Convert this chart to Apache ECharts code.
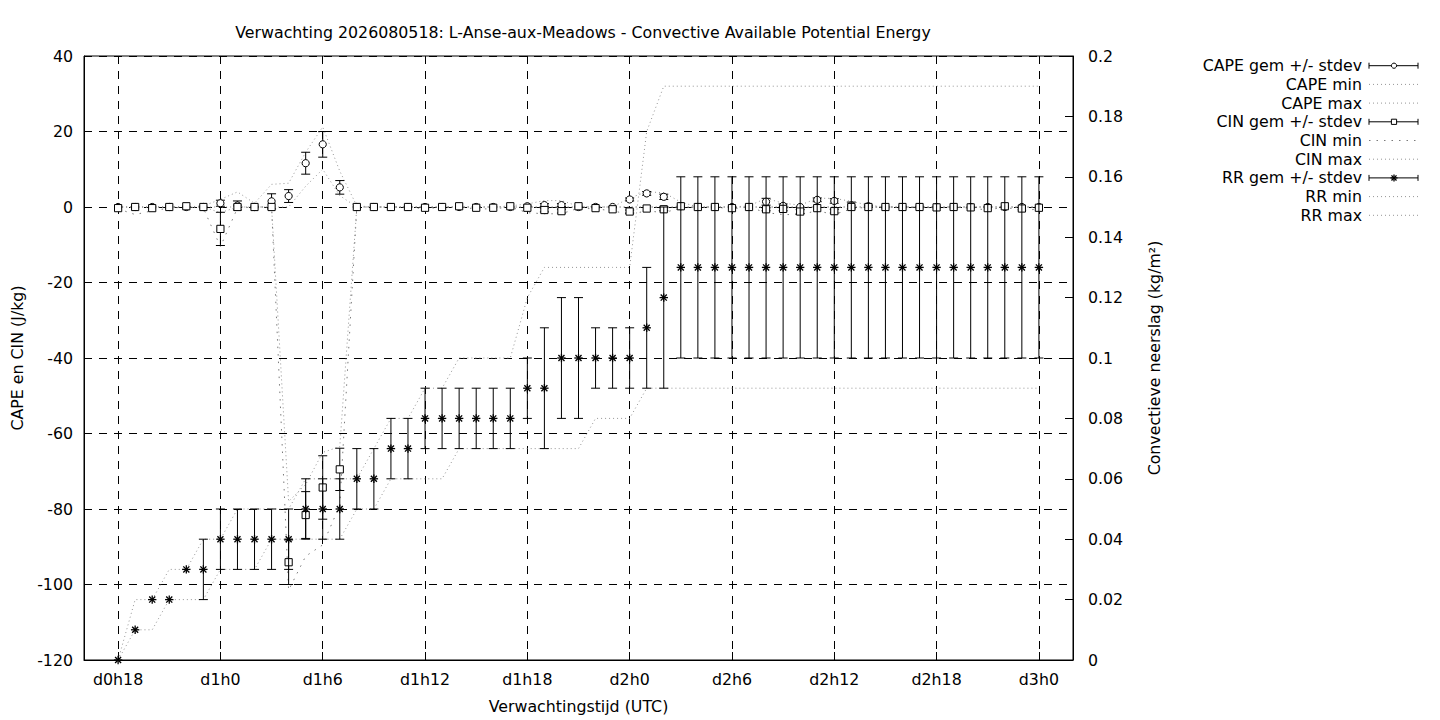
<!DOCTYPE html>
<html><head><meta charset="utf-8">
<script src="https://cdn.jsdelivr.net/npm/echarts@6/dist/echarts.min.js"></script>
<style>html,body{margin:0;padding:0;background:#fff}#c{width:1440px;height:720px}</style>
</head><body><div id="c"></div>
<script>
// ---- data (hourly, from d0h18 to d3h0) ----
const tickLabels = ['d0h18','d1h0','d1h6','d1h12','d1h18','d2h0','d2h6','d2h12','d2h18','d3h0'];

const capeGem = [0,0,0,0,0,0, 1.0,0.4,0,1.5,2.9,11.6,16.6,5.2,0, 0,0,0,0,0,0,0,0,0,
  0.2,0.5,0.5,0,0,0,2.0,3.6,2.7,0.2, 0,0,0,0, 1.4,0.3,0,1.9,1.6,0.4,0.2, 0,0,0,0,0,0,0,0,0,0];
const capeSd = [0,0,0,0,0,0, 0.8,1.2,0,2.0,1.7,2.9,3.4,1.8,0, 0,0,0,0,0,0,0,0,0,
  0,0.4,0.4,0,0,0,0.4,0.5,0.7,0, 0,0,0,0, 0.9,0.5,0,0.5,0.6,0.9,0.3, 0,0,0,0,0,0,0,0,0,0];
const capeMin = [0,0,0,0,0,0,0,0,0,0,0, 5.5,10,3.0,0,
  0,0,0,0,0,0,0,0,0,0, 0,0,0,0,0,0,0,0,0,0, 0,0,0,0,0,0,0,0,0,0, 0,0,0,0,0,0,0,0,0,0];
const capeMax = [0,0,0,0,0,0.3, 2.0,4.0,1.0,6.0,6.3,14.5,21.2,9.5,0.3, 0,0,0,0,0,0,0,0,0.3,
  0.8,1.7,1.7,0.2,0,0,2.4,4.0,3.8,1.3, 0,0,0,0.3, 2.3,1.0,0.5,2.3,2.3,1.5,0.5, 0,0,0,0,0,0,0,0,0,0];

const cinGem = [-0.3,0,-0.3,0,0.2,0,-5.8,0,0,0,-94.1,-81.6,-74.3,-69.5,0,
  0,0,0,-0.2,0,0.2,-0.2,-0.2,0.2, -0.2,-0.8,-1.1,0.2,-0.3,-0.6,-1.2,-0.4,-0.6,0.2,
  0,0,-0.3,0, -0.6,-0.5,-1.2,-0.3,-1.1,0,0, 0,0,0,-0.1,0,-0.1,-0.3,0.2,-0.4,-0.2];
const cinSd = [0,0,0,0,0,0,4.4,0,0,0,5.9,6.2,8.4,5.6,0,
  0,0,0,0,0,0,0,0,0, 0,0.5,0.5,0,0,0,0.4,0,0.4,0,
  0,0,0,0, 0.4,0.5,0.5,0,0.5,0,0, 0,0,0,0,0,0,0,0,0,0];
const cinMin = [-0.5,-2.0,-1.0,-0.3,0,-0.3,-10.5,-0.3,0,0,-101.5,-92.5,-89.5,-79,0,
  0,0,0,-0.5,0,0,-0.5,-0.5,0, -1.5,-1.8,-1.8,-0.3,-0.5,-1.0,-2.0,-1.0,-1.5,-0.3,
  0,0,-0.5,0, -1.5,-2.0,-2.0,-1.0,-2.0,-0.5,0, 0,0,0,-0.3,0,-0.3,-0.8,0,-1.0,-0.5];
const cinMax = [0,0,0,0,0,0,-1.5,0,0,0,-78,-73.5,-65,-63.5,0,
  0,0,0,0,0,0,0,0,0, 0,0,0,0,0,0,0,0,0,0, 0,0,0,0, 0,0,0,0,0,0,0, 0,0,0,0,0,0,0,0,0,0];

const rrGem = [0,0.01,0.02,0.02,0.03,0.03,0.04,0.04,0.04,0.04,0.04,0.05,0.05,0.05,0.06,0.06,
  0.07,0.07,0.08,0.08,0.08,0.08,0.08,0.08,0.09,0.09,0.10,0.10,0.10,0.10,0.10,0.11,0.12,
  0.13,0.13,0.13,0.13,0.13,0.13,0.13,0.13,0.13,0.13,0.13,0.13,0.13,0.13,0.13,0.13,0.13,0.13,0.13,0.13,0.13,0.13];
const rrSd = [0,0,0,0,0,0.01,0.01,0.01,0.01,0.01,0.01,0.01,0.01,0.01,0.01,0.01,
  0.01,0.01,0.01,0.01,0.01,0.01,0.01,0.01,0.01,0.02,0.02,0.02,0.01,0.01,0.01,0.02,0.03,
  0.03,0.03,0.03,0.03,0.03,0.03,0.03,0.03,0.03,0.03,0.03,0.03,0.03,0.03,0.03,0.03,0.03,0.03,0.03,0.03,0.03,0.03];
const rrMin = [0,0.01,0.01,0.02,0.02,0.02,0.03,0.03,0.03,0.04,0.04,0.04,0.04,0.04,0.05,0.05,
  0.06,0.06,0.06,0.06,0.07,0.07,0.07,0.07,0.07,0.07,0.07,0.07,0.08,0.08,0.08,
  0.09,0.09,0.09,0.09,0.09,0.09,0.09,0.09,0.09,0.09,0.09,0.09,0.09,0.09,0.09,0.09,0.09,0.09,0.09,0.09,0.09,0.09,0.09,0.09];
const rrMax = [0,0.02,0.02,0.03,0.03,0.04,0.04,0.05,0.05,0.05,0.05,0.06,0.06,0.06,0.06,0.07,
  0.08,0.08,0.09,0.09,0.10,0.10,0.10,0.10,0.12,0.13,0.13,0.13,0.13,0.13,0.13,0.175,
  0.19,0.19,0.19,0.19,0.19,0.19,0.19,0.19,0.19,0.19,0.19,0.19,0.19,0.19,0.19,0.19,0.19,0.19,0.19,0.19,0.19,0.19,0.19];

// ---- layout / style ----
const FONT = 'DejaVu Sans';
const FS = 15.8;
const X0 = 2;            // category index of the first forecast hour (axis starts 2 h earlier)
const NCAT = 59;         // hours -2 .. 56
const categories = [];
for (let k = 0; k < NCAT; k++) {
  const on = k >= X0 && (k - X0) % 6 === 0;
  categories.push(on ? tickLabels[(k - X0) / 6] : 'h' + (k - X0));
}
const isTick = (idx) => idx >= X0 && (idx - X0) % 6 === 0 && (idx - X0) / 6 < tickLabels.length;

const GRID_DASH = [8, 7];
const DOT = [1, 3];
const DOT_GRAY = '#959595';
const CAP = 4.5;

function markerShapes(kind, cx, cy, s) {
  const st = {fill: '#fff', stroke: '#000', lineWidth: 1};
  if (kind === 'circle') return [{type: 'circle', shape: {cx, cy, r: s}, style: st}];
  if (kind === 'square') return [{type: 'rect', shape: {x: cx - s, y: cy - s, width: 2 * s, height: 2 * s}, style: st}];
  const d = s * 0.72, ls = {stroke: '#000', lineWidth: 1.3};
  return [
    {type: 'line', shape: {x1: cx - s, y1: cy, x2: cx + s, y2: cy}, style: ls},
    {type: 'line', shape: {x1: cx, y1: cy - s, x2: cx, y2: cy + s}, style: ls},
    {type: 'line', shape: {x1: cx - d, y1: cy - d, x2: cx + d, y2: cy + d}, style: ls},
    {type: 'line', shape: {x1: cx - d, y1: cy + d, x2: cx + d, y2: cy - d}, style: ls}
  ];
}

function errRender(kind) {
  return function (params, api) {
    const x = api.value(0), y = api.value(1), sd = api.value(2);
    const p = api.coord([x, y]);
    const ch = [];
    if (sd > 0) {
      const t = api.coord([x, y + sd]), b = api.coord([x, y - sd]);
      const ls = {stroke: '#000', lineWidth: 1};
      ch.push({type: 'line', shape: {x1: p[0], y1: t[1], x2: p[0], y2: b[1]}, style: ls});
      ch.push({type: 'line', shape: {x1: p[0] - CAP, y1: t[1], x2: p[0] + CAP, y2: t[1]}, style: ls});
      ch.push({type: 'line', shape: {x1: p[0] - CAP, y1: b[1], x2: p[0] + CAP, y2: b[1]}, style: ls});
    }
    markerShapes(kind, p[0], p[1], kind === 'star' ? 4.2 : 3.6).forEach(e => ch.push(e));
    return {type: 'group', children: ch};
  };
}

const errData = (m, s) => m.map((v, i) => [i + X0, v, s[i]]);
const lineData = (a) => a.map((v, i) => [i + X0, v]);

function errSeries(name, m, s, kind, yIdx) {
  return {name, type: 'custom', yAxisIndex: yIdx, data: errData(m, s), encode: {x: 0, y: 1},
    renderItem: errRender(kind), z: 4, silent: true, clip: false};
}
function dotSeries(name, a, yIdx, color, dash) {
  return {name, type: 'line', yAxisIndex: yIdx, data: lineData(a), symbol: 'none', z: 3, silent: true,
    lineStyle: {color, width: 1, type: dash}};
}

const series = [
  errSeries('CAPE gem +/- stdev', capeGem, capeSd, 'circle', 0),
  dotSeries('CAPE min', capeMin, 0, DOT_GRAY, DOT),
  dotSeries('CAPE max', capeMax, 0, DOT_GRAY, DOT),
  errSeries('CIN gem +/- stdev', cinGem, cinSd, 'square', 0),
  dotSeries('CIN min', cinMin, 0, '#7a7a7a', [1.5, 6]),
  dotSeries('CIN max', cinMax, 0, DOT_GRAY, DOT),
  errSeries('RR gem +/- stdev', rrGem, rrSd, 'star', 1),
  dotSeries('RR min', rrMin, 1, DOT_GRAY, DOT),
  dotSeries('RR max', rrMax, 1, DOT_GRAY, DOT)
];

// ---- legend drawn as graphic (right-aligned text, sample on the right) ----
const legendRows = [
  {name: 'CAPE gem +/- stdev', kind: 'circle'},
  {name: 'CAPE min', dash: DOT, color: DOT_GRAY},
  {name: 'CAPE max', dash: DOT, color: DOT_GRAY},
  {name: 'CIN gem +/- stdev', kind: 'square'},
  {name: 'CIN min', dash: [1.5, 6], color: '#7a7a7a'},
  {name: 'CIN max', dash: DOT, color: DOT_GRAY},
  {name: 'RR gem +/- stdev', kind: 'star'},
  {name: 'RR min', dash: DOT, color: DOT_GRAY},
  {name: 'RR max', dash: DOT, color: DOT_GRAY}
];
const graphic = [];
const LX1 = 1369, LX2 = 1418, LTX = 1362;
legendRows.forEach((r, k) => {
  const y = 65.7 + 18.7 * k;
  graphic.push({type: 'text', x: LTX, y: y, silent: true,
    style: {text: r.name, fill: '#000', fontSize: FS, fontFamily: FONT,
      align: 'right', textAlign: 'right', verticalAlign: 'middle', textVerticalAlign: 'middle'}});
  if (r.kind) {
    const ls = {stroke: '#000', lineWidth: 1};
    graphic.push({type: 'line', silent: true, shape: {x1: LX1, y1: y, x2: LX2, y2: y}, style: ls});
    graphic.push({type: 'line', silent: true, shape: {x1: LX1, y1: y - 3, x2: LX1, y2: y + 3}, style: ls});
    graphic.push({type: 'line', silent: true, shape: {x1: LX2, y1: y - 3, x2: LX2, y2: y + 3}, style: ls});
    markerShapes(r.kind, 1394, y, r.kind === 'star' ? 3.5 : 2.6).forEach(e => { e.silent = true; graphic.push(e); });
  } else {
    graphic.push({type: 'line', silent: true, shape: {x1: LX1, y1: y, x2: LX2, y2: y},
      style: {stroke: r.color, lineWidth: 1, lineDash: r.dash}});
  }
});

const axisText = {color: '#000', fontSize: FS, fontFamily: FONT};

const option = {
  animation: false,
  backgroundColor: '#fff',
  textStyle: {fontFamily: FONT, color: '#000'},
  title: {
    text: 'Verwachting 2026080518: L-Anse-aux-Meadows - Convective Available Potential Energy',
    left: 578, top: 19, textAlign: 'center',
    textStyle: {fontSize: FS, fontWeight: 'normal', color: '#000', fontFamily: FONT}
  },
  grid: {left: 84, right: 367, top: 56, bottom: 60, show: true, borderColor: '#000', borderWidth: 1,
    backgroundColor: 'transparent', containLabel: false, outerBoundsMode: 'none'},
  xAxis: {
    type: 'category', data: categories, boundaryGap: false,
    name: 'Verwachtingstijd (UTC)', nameLocation: 'middle', nameGap: 38,
    nameTextStyle: axisText,
    axisLine: {show: true, onZero: false, lineStyle: {color: '#000', width: 1}},
    axisTick: {show: true, inside: true, length: 8, interval: (i) => isTick(i), lineStyle: {color: '#000'}},
    axisLabel: {show: true, interval: (i) => isTick(i), margin: 11, ...axisText},
    splitLine: {show: true, interval: (i) => isTick(i), lineStyle: {color: '#000', width: 1, type: GRID_DASH}}
  },
  yAxis: [
    {
      type: 'value', min: -120, max: 40, interval: 20, position: 'left',
      name: 'CAPE en CIN (J/kg)', nameLocation: 'middle', nameGap: 59, nameRotate: 90,
      nameTextStyle: axisText,
      axisLine: {show: true, lineStyle: {color: '#000', width: 1}},
      axisTick: {show: true, inside: true, length: 8, lineStyle: {color: '#000'}},
      axisLabel: {margin: 11, ...axisText},
      splitLine: {show: true, lineStyle: {color: '#000', width: 1, type: GRID_DASH}}
    },
    {
      type: 'value', min: 0, max: 0.2, interval: 0.02, position: 'right',
      name: 'Convectieve neerslag (kg/m²)', nameLocation: 'middle', nameGap: 73, nameRotate: 90,
      nameTextStyle: axisText,
      axisLine: {show: true, lineStyle: {color: '#000', width: 1}},
      axisTick: {show: true, inside: true, length: 8, lineStyle: {color: '#000'}},
      axisLabel: {margin: 15, ...axisText, formatter: (v) => String(+(+v).toFixed(2))},
      splitLine: {show: false}
    }
  ],
  series,
  graphic
};

const chart = echarts.init(document.getElementById('c'), null, {renderer: 'svg', width: 1440, height: 720});
chart.setOption(option);
</script>
</body></html>
